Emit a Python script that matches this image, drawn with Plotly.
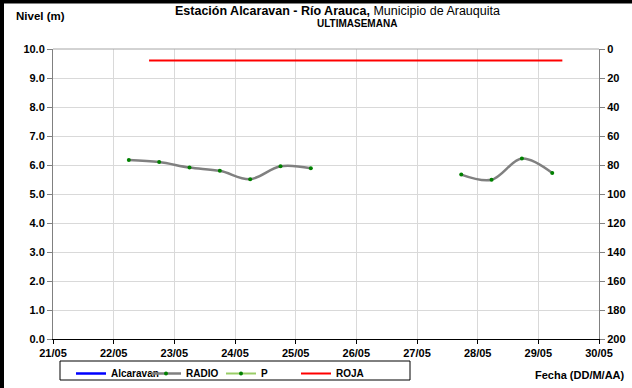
import plotly.graph_objects as go

# ---- data ----
radio_time = [
    "2021-05-22 06:00", "2021-05-22 18:00", "2021-05-23 06:00", "2021-05-23 18:00",
    "2021-05-24 06:00", "2021-05-24 18:00", "2021-05-25 06:00", "2021-05-26 00:00",
    "2021-05-27 17:30", "2021-05-28 05:30", "2021-05-28 17:30", "2021-05-29 05:30",
]
radio_nivel = [6.17, 6.10, 5.91, 5.80, 5.51, 5.96, 5.89, None, 5.67, 5.49, 6.22, 5.72]

roja_time = ["2021-05-22 14:00", "2021-05-29 09:30"]
roja_nivel = [9.6, 9.6]

alcaravan_time = [None]
alcaravan_nivel = [None]
p_time = [None]
p_valor = [None]

x_range = ["2021-05-21", "2021-05-30"]
y_ticks = [0, 1, 2, 3, 4, 5, 6, 7, 8, 9, 10]
y2_ticks = [0, 20, 40, 60, 80, 100, 120, 140, 160, 180, 200]

FONT = "Liberation Sans, Arial, sans-serif"

W, H = 632, 388
L, R, T, B = 53, 33, 49, 49
PW, PH = W - L - R, H - T - B


def px(x):
    return (x - L) / PW


def py(y):
    return (H - B - y) / PH


fig = go.Figure()
fig.add_trace(go.Scatter(x=alcaravan_time, y=alcaravan_nivel, name="Alcaravan",
                         mode="lines", line=dict(color="#0000ff", width=2.5)))
fig.add_trace(go.Scatter(x=radio_time, y=radio_nivel, name="RADIO",
                         mode="lines+markers", connectgaps=False,
                         line=dict(color="#808080", width=2.5, shape="spline", smoothing=1),
                         marker=dict(color="#008000", size=4)))
fig.add_trace(go.Scatter(x=p_time, y=p_valor, name="P", yaxis="y2",
                         mode="lines+markers",
                         line=dict(color="#99cc66", width=2),
                         marker=dict(color="#008000", size=4)))
fig.add_trace(go.Scatter(x=roja_time, y=roja_nivel, name="ROJA",
                         mode="lines", line=dict(color="#ff0000", width=2)))

fig.update_layout(
    width=W, height=H,
    margin=dict(l=L, r=R, t=T, b=B, autoexpand=False),
    paper_bgcolor="white", plot_bgcolor="white",
    font=dict(family=FONT, size=11, color="black"),
    showlegend=True,
    legend=dict(orientation="h", x=px(71), y=py(359), xanchor="left", yanchor="top",
                borderwidth=0, bgcolor="rgba(0,0,0,0)",
                font=dict(family=FONT, size=10, color="black", weight="bold"),
                entrywidth=30, entrywidthmode="pixels", itemwidth=30,
                tracegroupgap=0),
    xaxis=dict(type="date", range=x_range, dtick=86400000, tickformat="%d/%m",
               showgrid=True, gridcolor="#d9d9d9", gridwidth=1,
               showline=True, linecolor="black", linewidth=1,
               ticks="outside", ticklen=4, tickcolor="black", automargin=False,
               tickfont=dict(family=FONT, size=11, weight="bold"), zeroline=False),
    yaxis=dict(range=[0, 10], tickvals=y_ticks, tickformat=".1f",
               showgrid=True, gridcolor="#d9d9d9", gridwidth=1,
               showline=True, linecolor="#808080", linewidth=1,
               ticks="outside", ticklen=5, tickcolor="#808080", automargin=False,
               tickfont=dict(family=FONT, size=11, weight="bold"), zeroline=False),
    yaxis2=dict(range=[200, 0], tickvals=y2_ticks, overlaying="y", side="right",
                showgrid=False, showline=True, linecolor="#808080", linewidth=1,
                ticks="outside", ticklen=5, tickcolor="#808080", automargin=False,
                tickfont=dict(family=FONT, size=11, weight="bold"), zeroline=False),
)

# top frame line of plot area
fig.add_shape(type="line", xref="paper", yref="paper", x0=0, x1=1, y0=1, y1=1,
              line=dict(color="#a6a6a6", width=1))
# legend frame
fig.add_shape(type="rect", xref="paper", yref="paper",
              x0=px(60), x1=px(410), y0=py(380), y1=py(361),
              line=dict(color="black", width=1), fillcolor="rgba(0,0,0,0)", layer="below")
# thick black border at left and top of image
fig.add_shape(type="rect", xref="paper", yref="paper",
              x0=px(-2), x1=px(4), y0=py(H + 2), y1=py(-2),
              fillcolor="black", line=dict(width=0), layer="above")
fig.add_shape(type="rect", xref="paper", yref="paper",
              x0=px(-2), x1=px(W + 2), y0=py(3.5), y1=py(-2),
              fillcolor="black", line=dict(width=0), layer="above")

fig.add_annotation(xref="paper", yref="paper", x=px(337), y=py(11),
                   xanchor="center", yanchor="middle", showarrow=False,
                   text="<b>Estación Alcaravan - Río Arauca,</b> Municipio de Arauquita",
                   font=dict(family=FONT, size=12.5, color="black"))
fig.add_annotation(xref="paper", yref="paper", x=px(357), y=py(23),
                   xanchor="center", yanchor="middle", showarrow=False,
                   text="<b>ULTIMASEMANA</b>",
                   font=dict(family=FONT, size=10, color="black"))
fig.add_annotation(xref="paper", yref="paper", x=px(14), y=py(16),
                   xanchor="left", yanchor="middle", showarrow=False,
                   text="<b>Nivel (m)</b>", font=dict(family=FONT, size=11.5, color="black"))
fig.add_annotation(xref="paper", yref="paper", x=px(627), y=py(375),
                   xanchor="right", yanchor="middle", showarrow=False,
                   text="<b>Fecha (DD/M/AA)</b>", font=dict(family=FONT, size=11, color="black"))

fig.write_html("out.html", config={"displayModeBar": False},
               post_script="document.body.style.margin='0';")
